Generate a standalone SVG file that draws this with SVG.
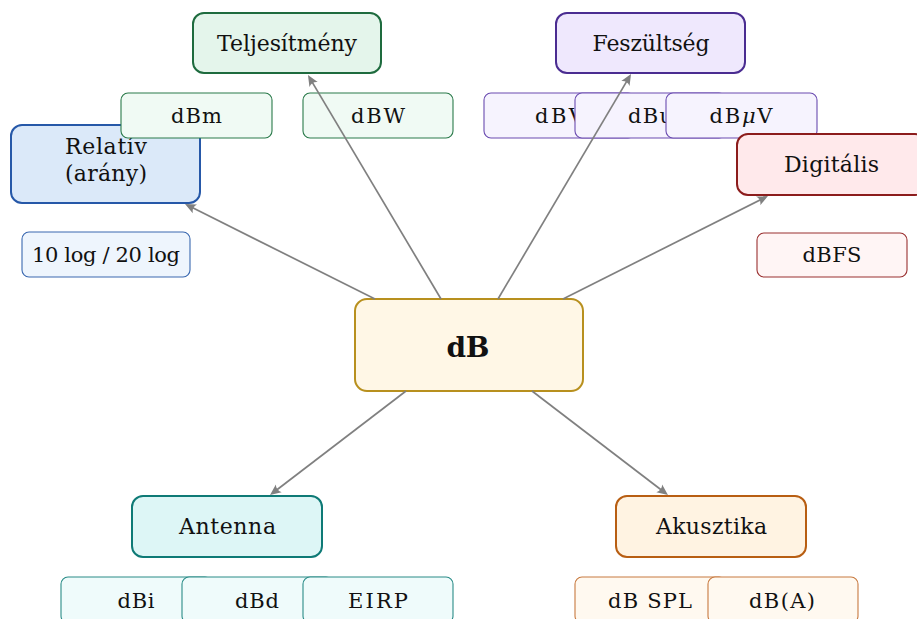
<svg xmlns="http://www.w3.org/2000/svg" width="917" height="619" viewBox="0 0 917 619">
<defs>
<style>
text{font-family:"DejaVu Serif",serif;fill:#111;text-anchor:middle}
.cat{font-size:22px}
.leaf{font-size:21px}
.main{font-size:28px;font-weight:bold}
.cb{stroke-width:2}
.lb{stroke-width:1.1}
.edge{stroke:#808080;stroke-width:1.7;fill:none;marker-end:url(#ah)}
</style>
<marker id="ah" markerUnits="userSpaceOnUse" viewBox="-12 -6 13 12" refX="-3" refY="0" markerWidth="13" markerHeight="12" orient="auto">
<path d="M0,0 L-11,-4.8 Q-7.5,0 -11,4.8 Z" fill="#808080"/>
</marker>
</defs>
<rect width="917" height="619" fill="#ffffff"/>

<g id="relativ">
<rect class="cb" x="11" y="125" width="189" height="78" rx="11" fill="#DBE9F9" stroke="#2658A8"/>
<text class="cat" x="106" y="154" textLength="82">Relatív</text>
<text class="cat" x="106" y="181" textLength="82">(arány)</text>
</g>
<g id="leaf-log">
<rect class="lb" x="22" y="232" width="168" height="45" rx="7" fill="#EEF5FD" stroke="#3A68B0"/>
<text class="leaf" x="106" y="262" font-size="20" textLength="148">10 log / 20 log</text>
</g>

<g id="teljesitmeny">
<rect class="cb" x="193" y="13" width="188" height="60" rx="11" fill="#E4F5EB" stroke="#1E6B3E"/>
<text class="cat" x="287" y="51" textLength="140">Teljesítmény</text>
</g>
<g id="leaf-dbm">
<rect class="lb" x="121" y="93" width="151" height="45" rx="7" fill="#F0FAF4" stroke="#2A7A4A"/>
<text class="leaf" x="196.5" y="123" textLength="51">dBm</text>
</g>
<g id="leaf-dbw">
<rect class="lb" x="303" y="93" width="150" height="45" rx="7" fill="#F0FAF4" stroke="#2A7A4A"/>
<text class="leaf" x="378" y="123" textLength="54">dBW</text>
</g>

<g id="feszultseg">
<rect class="cb" x="556" y="13" width="189" height="60" rx="11" fill="#EFE8FD" stroke="#4A2C91"/>
<text class="cat" x="651" y="51" textLength="117">Feszültség</text>
</g>
<g id="leaf-dbv">
<rect class="lb" x="484" y="93" width="151" height="45" rx="7" fill="#F6F3FE" stroke="#6A4BB0"/>
<text class="leaf" x="559.5" y="123" textLength="49">dBV</text>
</g>
<g id="leaf-dbu">
<rect class="lb" x="575" y="93" width="151" height="45" rx="7" fill="#F6F3FE" stroke="#6A4BB0"/>
<text class="leaf" x="650.5" y="123" textLength="45">dBu</text>
</g>
<g id="leaf-dbuv">
<rect class="lb" x="666" y="93" width="151" height="45" rx="7" fill="#F6F3FE" stroke="#6A4BB0"/>
<text class="leaf" x="741" y="123" textLength="63">dB<tspan font-style="italic">μ</tspan>V</text>
</g>

<g id="digitalis">
<rect class="cb" x="737" y="134" width="189" height="61" rx="11" fill="#FFE9EB" stroke="#8C1C1C"/>
<text class="cat" x="831.5" y="172" textLength="95">Digitális</text>
</g>
<g id="leaf-dbfs">
<rect class="lb" x="757" y="233" width="150" height="44" rx="7" fill="#FFF5F5" stroke="#9A3030"/>
<text class="leaf" x="832" y="262" textLength="59">dBFS</text>
</g>

<g id="antenna">
<rect class="cb" x="132" y="496" width="190" height="61" rx="11" fill="#DDF6F6" stroke="#0E7A76"/>
<text class="cat" x="227.5" y="534" textLength="97">Antenna</text>
</g>
<g id="leaf-dbi">
<rect class="lb" x="61" y="577" width="151" height="46" rx="7" fill="#EFFBFB" stroke="#2A8C88"/>
<text class="leaf" x="136" y="608" textLength="37">dBi</text>
</g>
<g id="leaf-dbd">
<rect class="lb" x="182" y="577" width="151" height="46" rx="7" fill="#EFFBFB" stroke="#2A8C88"/>
<text class="leaf" x="257" y="608" textLength="44">dBd</text>
</g>
<g id="leaf-eirp">
<rect class="lb" x="303" y="577" width="150" height="46" rx="7" fill="#EFFBFB" stroke="#2A8C88"/>
<text class="leaf" x="378" y="608" textLength="60">EIRP</text>
</g>

<g id="akusztika">
<rect class="cb" x="616" y="496" width="190" height="61" rx="11" fill="#FFF3E2" stroke="#B85E12"/>
<text class="cat" x="711.5" y="534" textLength="111">Akusztika</text>
</g>
<g id="leaf-dbspl">
<rect class="lb" x="575" y="577" width="151" height="46" rx="7" fill="#FFF9F0" stroke="#C87A40"/>
<text class="leaf" x="650" y="608" textLength="84">dB SPL</text>
</g>
<g id="leaf-dba">
<rect class="lb" x="708" y="577" width="150" height="46" rx="7" fill="#FFF9F0" stroke="#C87A40"/>
<text class="leaf" x="782" y="608" textLength="66">dB(A)</text>
</g>

<g id="center">
<rect class="cb" x="355" y="299" width="228" height="92" rx="12" fill="#FFF7E6" stroke="#B8901E"/>
<text class="main" x="468" y="357" textLength="43">dB</text>
</g>

<g id="connectors">
<line class="edge" x1="441" y1="299" x2="309.5" y2="77.6"/>
<line class="edge" x1="498" y1="299" x2="629.5" y2="76.6"/>
<line class="edge" x1="375" y1="299" x2="187.7" y2="205.3"/>
<line class="edge" x1="563" y1="299" x2="765.3" y2="197.3"/>
<line class="edge" x1="406" y1="391" x2="272.4" y2="493.2"/>
<line class="edge" x1="532" y1="391" x2="665.6" y2="493.2"/>
</g>
</svg>
